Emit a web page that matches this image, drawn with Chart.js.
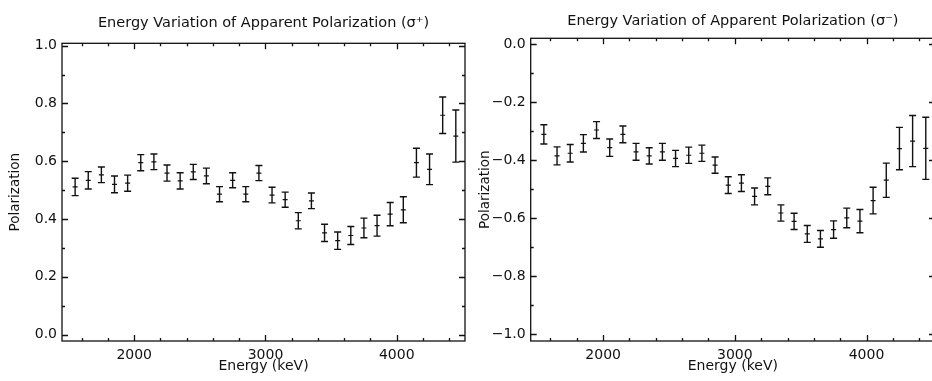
<!DOCTYPE html>
<html>
<head>
<meta charset="utf-8">
<script src="https://cdn.jsdelivr.net/npm/chart.js@4.4.1/dist/chart.umd.min.js"></script>
<style>
    html, body { margin: 0; padding: 0; background: #fff; overflow: hidden; width: 932px; height: 381px; }
    .panel { position: absolute; top: 0; height: 381px; }
    #leftPanel { left: 0; width: 470px; }
    #rightPanel { left: 470px; width: 470px; }
</style>
</head>
<body>
<div class="panel" id="leftPanel"><canvas id="sigmaPlusChart"></canvas></div>
<div class="panel" id="rightPanel"><canvas id="sigmaMinusChart"></canvas></div>

<script>
// ===================================
// Apparent polarization vs energy
// ===================================

// Bin centres (keV)
const energies = [1550, 1650, 1750, 1850, 1950, 2050, 2150, 2250, 2350, 2450,
                  2550, 2650, 2750, 2850, 2950, 3050, 3150, 3250, 3350, 3450,
                  3550, 3650, 3750, 3850, 3950, 4050, 4150, 4250, 4350, 4450];

// sigma+ polarization and 1-sigma errors
const plusValues = [0.511, 0.534, 0.553, 0.520, 0.524, 0.595, 0.598, 0.559, 0.532, 0.563,
                    0.549, 0.486, 0.534, 0.486, 0.559, 0.483, 0.467, 0.394, 0.463, 0.352,
                    0.325, 0.343, 0.369, 0.377, 0.417, 0.432, 0.595, 0.572, 0.759, 0.687];
const plusErrors = [0.030, 0.030, 0.027, 0.029, 0.028, 0.028, 0.027, 0.028, 0.028, 0.026,
                    0.027, 0.026, 0.026, 0.026, 0.026, 0.027, 0.026, 0.028, 0.027, 0.030,
                    0.030, 0.031, 0.034, 0.036, 0.040, 0.045, 0.050, 0.053, 0.063, 0.090];

// sigma- polarization and 1-sigma errors
const minusValues = [-0.311, -0.385, -0.376, -0.342, -0.296, -0.357, -0.311, -0.371, -0.385, -0.371,
                     -0.394, -0.383, -0.376, -0.417, -0.486, -0.479, -0.525, -0.490, -0.582, -0.611,
                     -0.654, -0.671, -0.639, -0.599, -0.610, -0.539, -0.469, -0.360, -0.334, -0.359];
const minusErrors = [0.033, 0.031, 0.030, 0.030, 0.029, 0.030, 0.029, 0.029, 0.028, 0.029,
                     0.028, 0.028, 0.028, 0.028, 0.029, 0.029, 0.029, 0.029, 0.028, 0.028,
                     0.029, 0.029, 0.030, 0.034, 0.040, 0.046, 0.059, 0.073, 0.088, 0.107];

// Axis ticks
const xTicks = [2000, 3000, 4000];
const plusYTicks = [0, 0.2, 0.4, 0.6, 0.8, 1.0];
const minusYTicks = [-1.0, -0.8, -0.6, -0.4, -0.2, 0];

const INK = '#111';
const FONT = "'DejaVu Sans', sans-serif";

// draws vertical error bars with small caps
const errorBarPlugin = {
    id: 'errorBars',
    afterDatasetsDraw(chart) {
        const ctx = chart.ctx;
        const x = chart.scales.x;
        const y = chart.scales.y;
        chart.data.datasets.forEach(ds => {
            if (!ds.errors) return;
            ctx.save();
            ctx.strokeStyle = INK;
            ctx.lineWidth = 1.4;
            ds.data.forEach((p, i) => {
                const px = x.getPixelForValue(p.x);
                const top = y.getPixelForValue(p.y + ds.errors[i]);
                const bot = y.getPixelForValue(p.y - ds.errors[i]);
                ctx.beginPath();
                ctx.moveTo(px, top);
                ctx.lineTo(px, bot);
                ctx.moveTo(px - 3.5, top);
                ctx.lineTo(px + 3.5, top);
                ctx.moveTo(px - 3.5, bot);
                ctx.lineTo(px + 3.5, bot);
                ctx.stroke();
            });
            ctx.restore();
        });
    }
};

// IDL style box with inward ticks on all four sides
const framePlugin = {
    id: 'idlFrame',
    afterDraw(chart) {
        const ctx = chart.ctx;
        const area = chart.chartArea;
        const x = chart.scales.x;
        const y = chart.scales.y;
        ctx.save();
        ctx.strokeStyle = INK;
        ctx.lineWidth = 1.3;
        ctx.strokeRect(area.left, area.top, area.right - area.left, area.bottom - area.top);
        ctx.beginPath();
        // x ticks every 200 keV, major every 1000
        for (let v = 1600; v <= x.max; v += 200) {
            const px = Math.round(x.getPixelForValue(v)) + 0.5;
            const len = v % 1000 === 0 ? 6 : 3;
            ctx.moveTo(px, area.bottom);
            ctx.lineTo(px, area.bottom - len);
            ctx.moveTo(px, area.top);
            ctx.lineTo(px, area.top + len);
        }
        // y ticks every 0.1, major every 0.2
        for (let k = Math.ceil(y.min * 10); k <= Math.floor(y.max * 10); k++) {
            const py = Math.round(y.getPixelForValue(k / 10)) + 0.5;
            const len = k % 2 === 0 ? 6 : 3;
            ctx.moveTo(area.left, py);
            ctx.lineTo(area.left + len, py);
            ctx.moveTo(area.right, py);
            ctx.lineTo(area.right - len, py);
        }
        ctx.stroke();
        ctx.restore();
    }
};

function formatPolarization(value) {
    if (Math.abs(value) < 1e-9) return '0.0';
    return value.toFixed(1).replace('-', '\u2212');
}

function buildChart(canvasId, cfg) {
    const points = energies.map((e, i) => ({ x: e, y: cfg.values[i] }));
    return new Chart(document.getElementById(canvasId), {
        type: 'scatter',
        data: {
            datasets: [{
                data: points,
                errors: cfg.errors,
                pointStyle: 'line',
                pointRadius: 2.5,
                pointHoverRadius: 2.5,
                borderColor: INK,
                backgroundColor: INK,
                borderWidth: 1.2
            }]
        },
        options: {
            responsive: true,
            maintainAspectRatio: false,
            animation: false,
            events: [],
            layout: {
                padding: { left: cfg.padLeft, right: cfg.padRight, top: 0, bottom: 6 }
            },
            plugins: {
                legend: { display: false },
                tooltip: { enabled: false },
                title: {
                    display: true,
                    fullSize: false,
                    text: cfg.title,
                    color: INK,
                    font: { family: FONT, size: 14.5, weight: 'normal' },
                    padding: { top: cfg.titleTop, bottom: cfg.titleBottom }
                }
            },
            scales: {
                x: {
                    type: 'linear',
                    min: 1450,
                    max: 4520,
                    grid: { display: false, drawTicks: false },
                    border: { display: false },
                    afterBuildTicks: scale => { scale.ticks = xTicks.map(v => ({ value: v })); },
                    afterFit: scale => { scale.height = 34; },
                    ticks: {
                        color: INK,
                        padding: 6,
                        maxRotation: 0,
                        font: { family: FONT, size: 14 },
                        callback: v => String(v)
                    },
                    title: {
                        display: true,
                        text: 'Energy (keV)',
                        color: INK,
                        padding: 0,
                        font: { family: FONT, size: 14 }
                    }
                },
                y: {
                    min: cfg.yMin,
                    max: cfg.yMax,
                    grid: { display: false, drawTicks: false },
                    border: { display: false },
                    afterBuildTicks: scale => { scale.ticks = cfg.yTicks.map(v => ({ value: v })); },
                    afterFit: scale => { scale.width = cfg.yWidth; },
                    ticks: {
                        color: INK,
                        padding: 5,
                        font: { family: FONT, size: 14 },
                        callback: v => formatPolarization(v)
                    },
                    title: {
                        display: true,
                        text: 'Polarization',
                        color: INK,
                        padding: 0,
                        font: { family: FONT, size: 13.5 }
                    }
                }
            }
        },
        plugins: [errorBarPlugin, framePlugin]
    });
}

document.addEventListener('DOMContentLoaded', function() {
    buildChart('sigmaPlusChart', {
        title: 'Energy Variation of Apparent Polarization (\u03c3\u207a)',
        values: plusValues,
        errors: plusErrors,
        yTicks: plusYTicks,
        yMin: -0.022,
        yMax: 1.008,
        padLeft: 7,
        padRight: 5,
        yWidth: 55,
        titleTop: 14.3,
        titleBottom: 11.6
    });

    buildChart('sigmaMinusChart', {
        title: 'Energy Variation of Apparent Polarization (\u03c3\u207b)',
        values: minusValues,
        errors: minusErrors,
        yTicks: minusYTicks,
        yMin: -1.023,
        yMax: 0.02,
        padLeft: 7.5,
        padRight: 5,
        yWidth: 53.2,
        titleTop: 12.3,
        titleBottom: 8.6
    });
});
</script>
</body>
</html>
